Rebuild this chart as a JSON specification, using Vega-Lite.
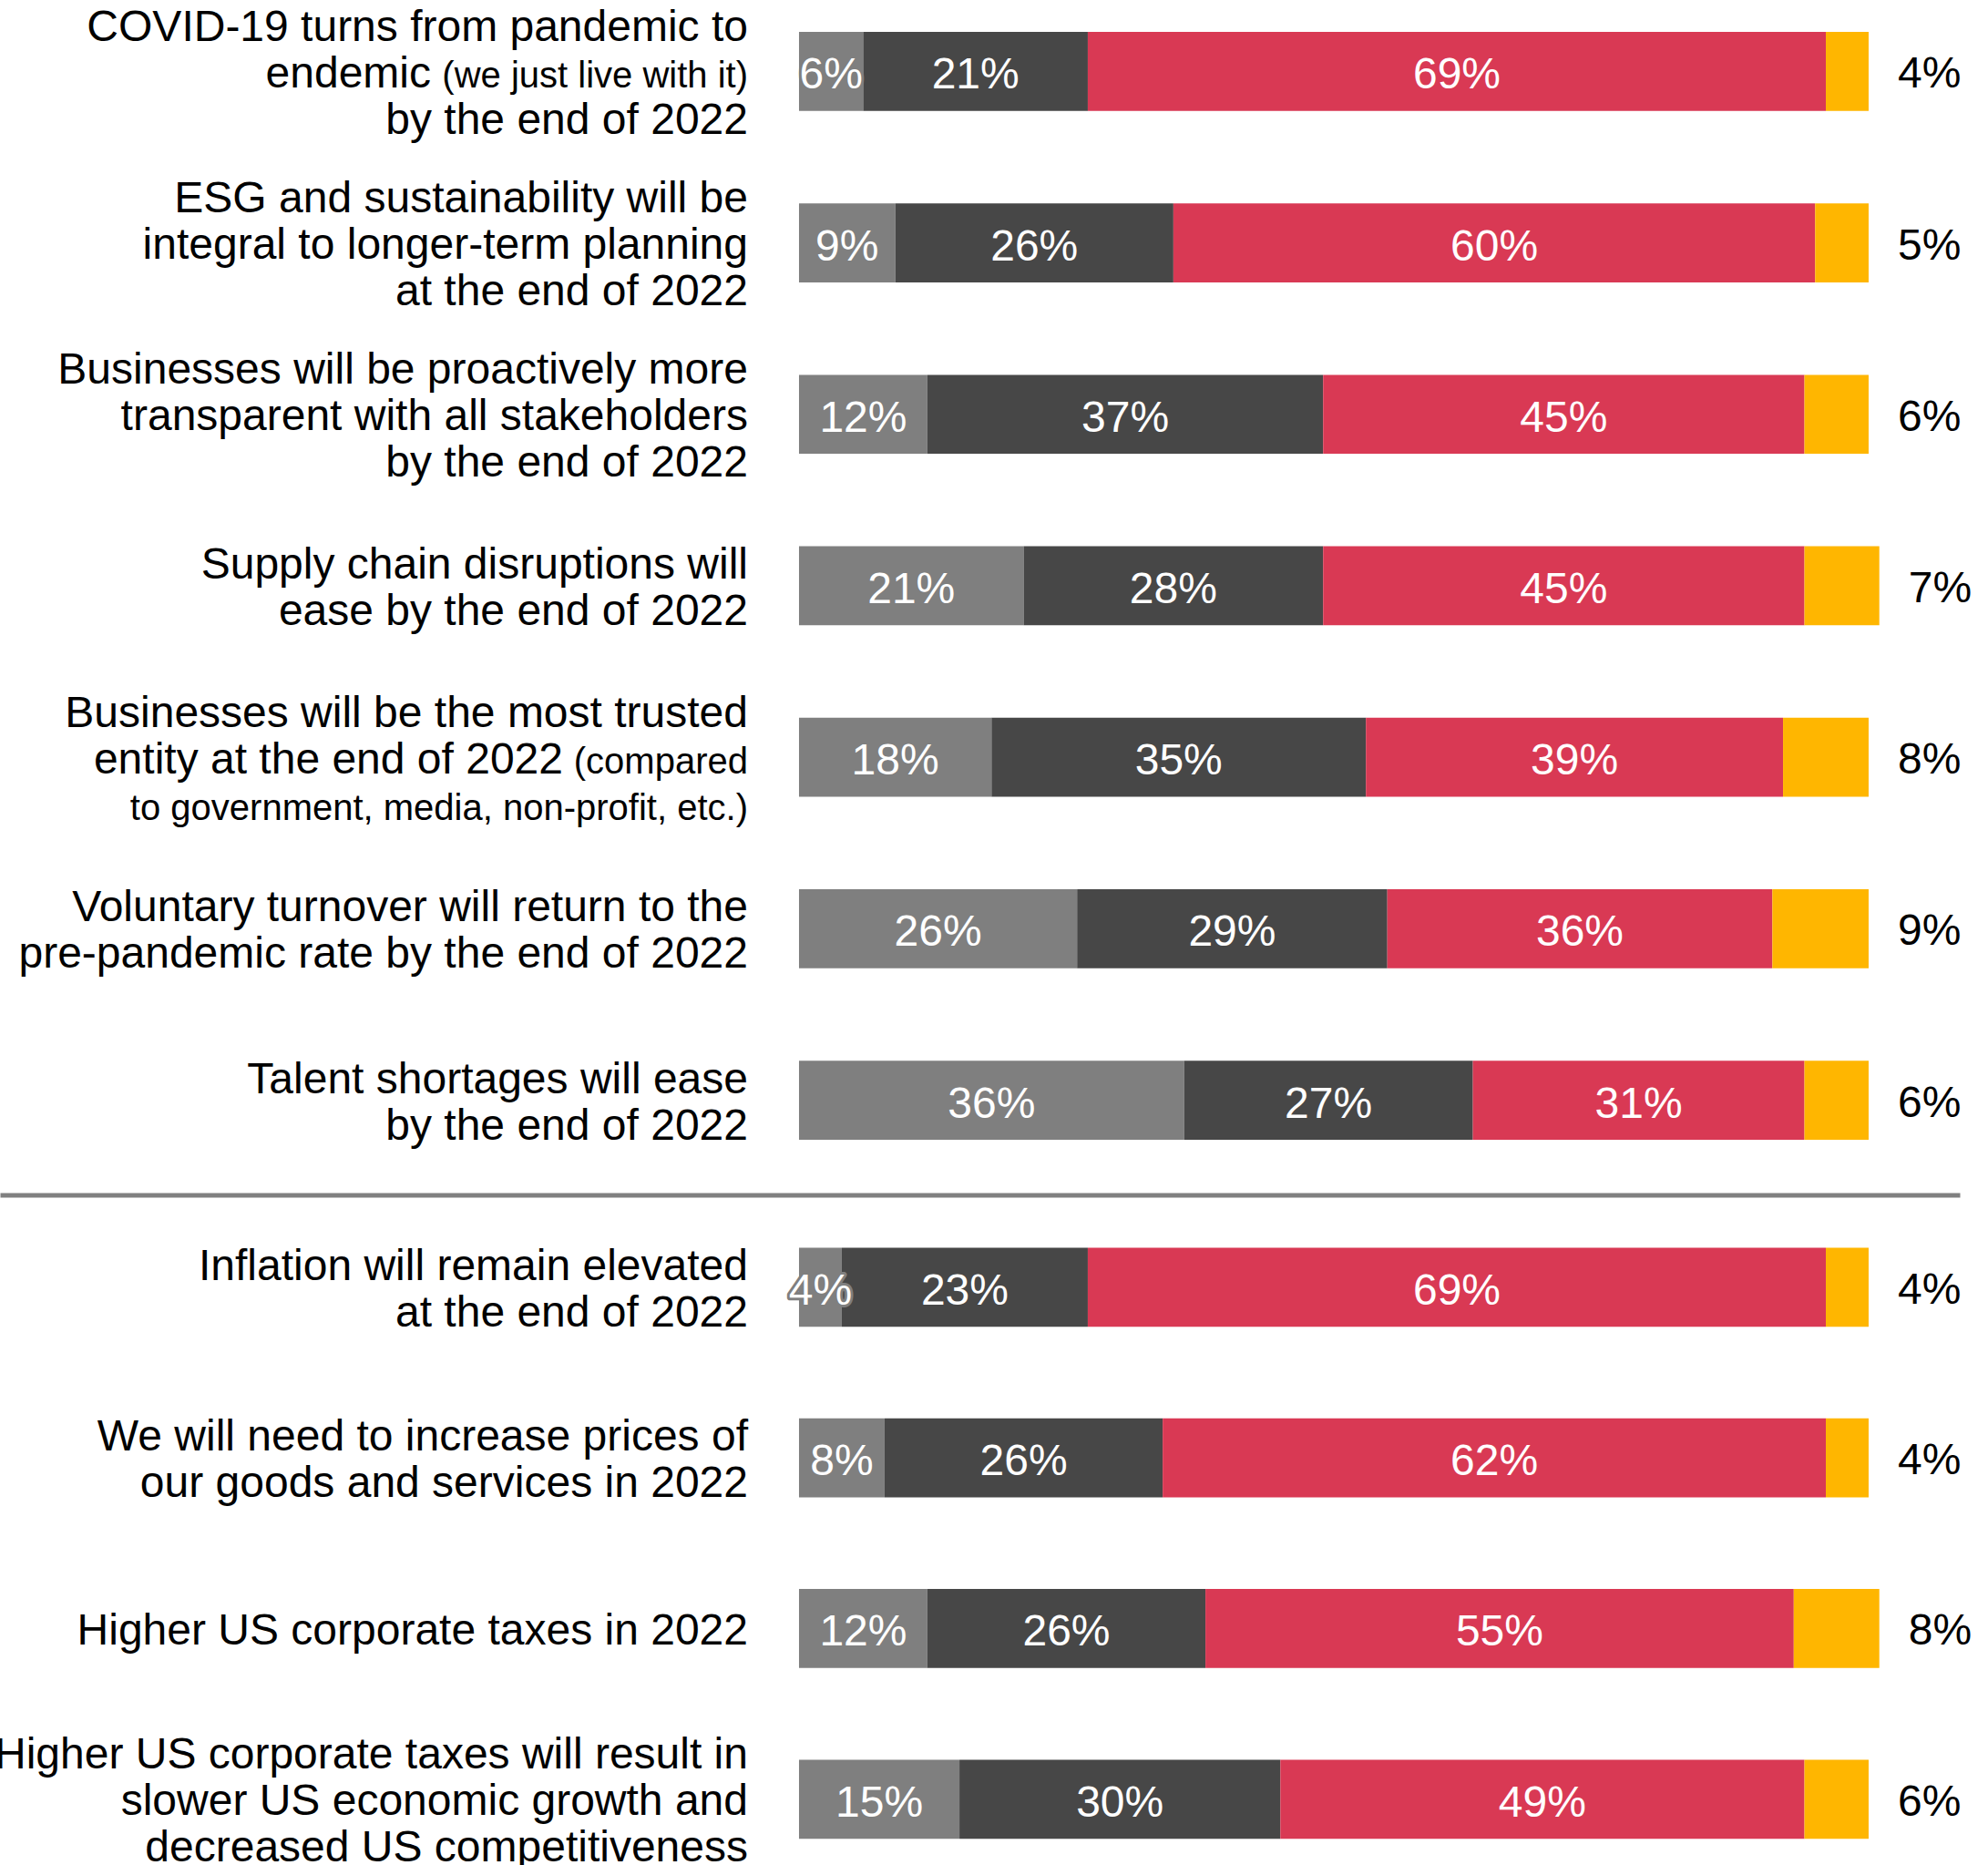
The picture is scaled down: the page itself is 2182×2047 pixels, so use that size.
{
  "$schema": "https://vega.github.io/schema/vega-lite/v6.json",
  "padding": 0,
  "spacing": 0,
  "bounds": "flush",
  "background": "white",
  "config": {"font": "Liberation Sans", "view": {"stroke": null}, "axis": {"grid": false}},
  "datasets": {
    "bars": [
      {"panel": "top", "q": "covid", "cat": "Disagree", "k": 1, "v": 0.06},
      {"panel": "top", "q": "covid", "cat": "Neutral", "k": 2, "v": 0.21},
      {"panel": "top", "q": "covid", "cat": "Agree", "k": 3, "v": 0.69},
      {"panel": "top", "q": "covid", "cat": "Don't know", "k": 4, "v": 0.04},
      {"panel": "top", "q": "esg", "cat": "Disagree", "k": 1, "v": 0.09},
      {"panel": "top", "q": "esg", "cat": "Neutral", "k": 2, "v": 0.26},
      {"panel": "top", "q": "esg", "cat": "Agree", "k": 3, "v": 0.60},
      {"panel": "top", "q": "esg", "cat": "Don't know", "k": 4, "v": 0.05},
      {"panel": "top", "q": "transparent", "cat": "Disagree", "k": 1, "v": 0.12},
      {"panel": "top", "q": "transparent", "cat": "Neutral", "k": 2, "v": 0.37},
      {"panel": "top", "q": "transparent", "cat": "Agree", "k": 3, "v": 0.45},
      {"panel": "top", "q": "transparent", "cat": "Don't know", "k": 4, "v": 0.06},
      {"panel": "top", "q": "supply", "cat": "Disagree", "k": 1, "v": 0.21},
      {"panel": "top", "q": "supply", "cat": "Neutral", "k": 2, "v": 0.28},
      {"panel": "top", "q": "supply", "cat": "Agree", "k": 3, "v": 0.45},
      {"panel": "top", "q": "supply", "cat": "Don't know", "k": 4, "v": 0.07},
      {"panel": "top", "q": "trusted", "cat": "Disagree", "k": 1, "v": 0.18},
      {"panel": "top", "q": "trusted", "cat": "Neutral", "k": 2, "v": 0.35},
      {"panel": "top", "q": "trusted", "cat": "Agree", "k": 3, "v": 0.39},
      {"panel": "top", "q": "trusted", "cat": "Don't know", "k": 4, "v": 0.08},
      {"panel": "top", "q": "turnover", "cat": "Disagree", "k": 1, "v": 0.26},
      {"panel": "top", "q": "turnover", "cat": "Neutral", "k": 2, "v": 0.29},
      {"panel": "top", "q": "turnover", "cat": "Agree", "k": 3, "v": 0.36},
      {"panel": "top", "q": "turnover", "cat": "Don't know", "k": 4, "v": 0.09},
      {"panel": "top", "q": "talent", "cat": "Disagree", "k": 1, "v": 0.36},
      {"panel": "top", "q": "talent", "cat": "Neutral", "k": 2, "v": 0.27},
      {"panel": "top", "q": "talent", "cat": "Agree", "k": 3, "v": 0.31},
      {"panel": "top", "q": "talent", "cat": "Don't know", "k": 4, "v": 0.06},
      {"panel": "bottom", "q": "inflation", "cat": "Disagree", "k": 1, "v": 0.04},
      {"panel": "bottom", "q": "inflation", "cat": "Neutral", "k": 2, "v": 0.23},
      {"panel": "bottom", "q": "inflation", "cat": "Agree", "k": 3, "v": 0.69},
      {"panel": "bottom", "q": "inflation", "cat": "Don't know", "k": 4, "v": 0.04},
      {"panel": "bottom", "q": "prices", "cat": "Disagree", "k": 1, "v": 0.08},
      {"panel": "bottom", "q": "prices", "cat": "Neutral", "k": 2, "v": 0.26},
      {"panel": "bottom", "q": "prices", "cat": "Agree", "k": 3, "v": 0.62},
      {"panel": "bottom", "q": "prices", "cat": "Don't know", "k": 4, "v": 0.04},
      {"panel": "bottom", "q": "taxes", "cat": "Disagree", "k": 1, "v": 0.12},
      {"panel": "bottom", "q": "taxes", "cat": "Neutral", "k": 2, "v": 0.26},
      {"panel": "bottom", "q": "taxes", "cat": "Agree", "k": 3, "v": 0.55},
      {"panel": "bottom", "q": "taxes", "cat": "Don't know", "k": 4, "v": 0.08},
      {"panel": "bottom", "q": "growth", "cat": "Disagree", "k": 1, "v": 0.15},
      {"panel": "bottom", "q": "growth", "cat": "Neutral", "k": 2, "v": 0.30},
      {"panel": "bottom", "q": "growth", "cat": "Agree", "k": 3, "v": 0.49},
      {"panel": "bottom", "q": "growth", "cat": "Don't know", "k": 4, "v": 0.06}
    ],
    "labels": [
      {"panel": "top", "q": "covid", "role": "first", "text": "COVID-19 turns from pandemic to"},
      {"panel": "top", "q": "covid", "role": "leadA", "text": "endemic"},
      {"panel": "top", "q": "covid", "role": "note", "text": "(we just live with it)"},
      {"panel": "top", "q": "covid", "role": "last", "text": "by the end of 2022"},
      {"panel": "top", "q": "esg", "role": "main", "text": "ESG and sustainability will be\nintegral to longer-term planning\nat the end of 2022"},
      {"panel": "top", "q": "transparent", "role": "main", "text": "Businesses will be proactively more\ntransparent with all stakeholders\nby the end of 2022"},
      {"panel": "top", "q": "supply", "role": "main", "text": "Supply chain disruptions will\nease by the end of 2022"},
      {"panel": "top", "q": "trusted", "role": "first", "text": "Businesses will be the most trusted"},
      {"panel": "top", "q": "trusted", "role": "leadB", "text": "entity at the end of 2022"},
      {"panel": "top", "q": "trusted", "role": "note", "text": "(compared\nto government, media, non-profit, etc.)"},
      {"panel": "top", "q": "turnover", "role": "main", "text": "Voluntary turnover will return to the\npre-pandemic rate by the end of 2022"},
      {"panel": "top", "q": "talent", "role": "main", "text": "Talent shortages will ease\nby the end of 2022"},
      {"panel": "bottom", "q": "inflation", "role": "main", "text": "Inflation will remain elevated\nat the end of 2022"},
      {"panel": "bottom", "q": "prices", "role": "main", "text": "We will need to increase prices of\nour goods and services in 2022"},
      {"panel": "bottom", "q": "taxes", "role": "main", "text": "Higher US corporate taxes in 2022"},
      {"panel": "bottom", "q": "growth", "role": "main", "text": "Higher US corporate taxes will result in\nslower US economic growth and\ndecreased US competitiveness"}
    ]
  },
  "vconcat": [
    {
      "width": 2151,
      "height": 1311.5,
      "layer": [
        {
          "data": {"name": "bars"},
          "transform": [{"filter": "datum.panel == 'top'"}],
          "mark": {"type": "bar"},
          "encoding": {
            "y": {"field": "q", "type": "nominal", "axis": null,
                  "scale": {"domain": ["covid", "esg", "transparent", "supply", "trusted", "turnover", "talent"], "paddingInner": 0.5393, "paddingOuter": 0.254, "align": 0.366}},
            "x": {"field": "v", "type": "quantitative", "stack": "zero",
                  "scale": {"domain": [-0.747, 1.0852], "nice": false, "zero": false},
                  "axis": {"title": null, "labels": false, "ticks": false, "grid": false, "domain": true, "domainColor": "#808080", "domainWidth": 5}},
            "color": {"field": "cat", "type": "nominal", "legend": null,
                      "scale": {"domain": ["Disagree", "Neutral", "Agree", "Don't know"], "range": ["#7f7f7f", "#474747", "#d93954", "#ffb600"]}},
            "order": {"field": "k", "type": "quantitative"}
          }
        },
        {
          "data": {"name": "bars"},
          "transform": [{"filter": "datum.panel == 'top' && datum.k == 1"}],
          "mark": {"type": "text", "fontSize": 48, "fill": "white", "stroke": "#7f7f7f", "strokeWidth": 6, "strokeJoin": "round", "align": "center", "baseline": "middle", "dy": 5},
          "encoding": {
            "y": {"field": "q", "type": "nominal", "axis": null},
            "x": {"field": "v", "type": "quantitative", "stack": "zero", "bandPosition": 0.5,
                  "axis": {"title": null, "labels": false, "ticks": false, "grid": false, "domain": true, "domainColor": "#808080", "domainWidth": 5}},
            "detail": {"field": "cat", "type": "nominal"},
            "order": {"field": "k", "type": "quantitative"},
            "text": {"field": "v", "type": "quantitative", "format": ".0%"}
          }
        },
        {
          "data": {"name": "bars"},
          "transform": [{"filter": "datum.panel == 'top' && datum.k <= 3"}],
          "mark": {"type": "text", "fontSize": 48, "color": "white", "align": "center", "baseline": "middle", "dy": 5},
          "encoding": {
            "y": {"field": "q", "type": "nominal", "axis": null},
            "x": {"field": "v", "type": "quantitative", "stack": "zero", "bandPosition": 0.5,
                  "axis": {"title": null, "labels": false, "ticks": false, "grid": false, "domain": true, "domainColor": "#808080", "domainWidth": 5}},
            "detail": {"field": "cat", "type": "nominal"},
            "order": {"field": "k", "type": "quantitative"},
            "text": {"field": "v", "type": "quantitative", "format": ".0%"}
          }
        },
        {
          "data": {"name": "bars"},
          "transform": [
            {"filter": "datum.panel == 'top'"},
            {"stack": "v", "groupby": ["q"], "sort": [{"field": "k", "order": "ascending"}], "as": ["s0", "s1"]},
            {"filter": "datum.k == 4"}
          ],
          "mark": {"type": "text", "fontSize": 48, "color": "black", "align": "left", "baseline": "middle", "dx": 32, "dy": 4},
          "encoding": {
            "y": {"field": "q", "type": "nominal", "axis": null},
            "x": {"field": "s1", "type": "quantitative",
                  "axis": {"title": null, "labels": false, "ticks": false, "grid": false, "domain": true, "domainColor": "#808080", "domainWidth": 5}},
            "text": {"field": "v", "type": "quantitative", "format": ".0%"}
          }
        },
        {
          "data": {"name": "labels"},
          "transform": [{"filter": "datum.panel == 'top' && datum.role == 'main' && length(split(datum.text, '\\n')) == 3"}],
          "mark": {"type": "text", "fontSize": 48, "lineHeight": 51, "lineBreak": "\n", "color": "black", "align": "right", "baseline": "middle", "dx": -56, "dy": -47.5, "clip": true},
          "encoding": {
            "y": {"field": "q", "type": "nominal", "axis": null},
            "x": {"datum": 0, "type": "quantitative",
                  "axis": {"title": null, "labels": false, "ticks": false, "grid": false, "domain": true, "domainColor": "#808080", "domainWidth": 5}},
            "text": {"field": "text", "type": "nominal"}
          }
        },
        {
          "data": {"name": "labels"},
          "transform": [{"filter": "datum.panel == 'top' && datum.role == 'main' && length(split(datum.text, '\\n')) == 2"}],
          "mark": {"type": "text", "fontSize": 48, "lineHeight": 51, "lineBreak": "\n", "color": "black", "align": "right", "baseline": "middle", "dx": -56, "dy": -22, "clip": true},
          "encoding": {
            "y": {"field": "q", "type": "nominal", "axis": null},
            "x": {"datum": 0, "type": "quantitative",
                  "axis": {"title": null, "labels": false, "ticks": false, "grid": false, "domain": true, "domainColor": "#808080", "domainWidth": 5}},
            "text": {"field": "text", "type": "nominal"}
          }
        },
        {
          "data": {"name": "labels"},
          "transform": [{"filter": "datum.panel == 'top' && datum.role == 'first'"}],
          "mark": {"type": "text", "fontSize": 48, "color": "black", "align": "right", "baseline": "middle", "dx": -56, "dy": -47.5, "clip": true},
          "encoding": {
            "y": {"field": "q", "type": "nominal", "axis": null},
            "x": {"datum": 0, "type": "quantitative",
                  "axis": {"title": null, "labels": false, "ticks": false, "grid": false, "domain": true, "domainColor": "#808080", "domainWidth": 5}},
            "text": {"field": "text", "type": "nominal"}
          }
        },
        {
          "data": {"name": "labels"},
          "transform": [{"filter": "datum.panel == 'top' && datum.role == 'last'"}],
          "mark": {"type": "text", "fontSize": 48, "color": "black", "align": "right", "baseline": "middle", "dx": -56, "dy": 54.5, "clip": true},
          "encoding": {
            "y": {"field": "q", "type": "nominal", "axis": null},
            "x": {"datum": 0, "type": "quantitative",
                  "axis": {"title": null, "labels": false, "ticks": false, "grid": false, "domain": true, "domainColor": "#808080", "domainWidth": 5}},
            "text": {"field": "text", "type": "nominal"}
          }
        },
        {
          "data": {"name": "labels"},
          "transform": [{"filter": "datum.panel == 'top' && datum.role == 'note'"}],
          "mark": {"type": "text", "fontSize": 40, "lineHeight": 51, "lineBreak": "\n", "color": "black", "align": "right", "baseline": "middle", "dx": -56, "dy": 5.5, "clip": true},
          "encoding": {
            "y": {"field": "q", "type": "nominal", "axis": null},
            "x": {"datum": 0, "type": "quantitative",
                  "axis": {"title": null, "labels": false, "ticks": false, "grid": false, "domain": true, "domainColor": "#808080", "domainWidth": 5}},
            "text": {"field": "text", "type": "nominal"}
          }
        },
        {
          "data": {"name": "labels"},
          "transform": [{"filter": "datum.panel == 'top' && datum.role == 'leadA'"}],
          "mark": {"type": "text", "fontSize": 48, "color": "black", "align": "right", "baseline": "middle", "dx": -404, "dy": 3.5, "clip": true},
          "encoding": {
            "y": {"field": "q", "type": "nominal", "axis": null},
            "x": {"datum": 0, "type": "quantitative",
                  "axis": {"title": null, "labels": false, "ticks": false, "grid": false, "domain": true, "domainColor": "#808080", "domainWidth": 5}},
            "text": {"field": "text", "type": "nominal"}
          }
        },
        {
          "data": {"name": "labels"},
          "transform": [{"filter": "datum.panel == 'top' && datum.role == 'leadB'"}],
          "mark": {"type": "text", "fontSize": 48, "color": "black", "align": "right", "baseline": "middle", "dx": -259, "dy": 3.5, "clip": true},
          "encoding": {
            "y": {"field": "q", "type": "nominal", "axis": null},
            "x": {"datum": 0, "type": "quantitative",
                  "axis": {"title": null, "labels": false, "ticks": false, "grid": false, "domain": true, "domainColor": "#808080", "domainWidth": 5}},
            "text": {"field": "text", "type": "nominal"}
          }
        }
      ]
    },
    {
      "width": 2151,
      "height": 735.5,
      "layer": [
        {
          "data": {"name": "bars"},
          "transform": [{"filter": "datum.panel == 'bottom'"}],
          "mark": {"type": "bar"},
          "encoding": {
            "y": {"field": "q", "type": "nominal", "axis": null,
                  "scale": {"domain": ["inflation", "prices", "taxes", "growth"], "paddingInner": 0.537, "paddingOuter": 0.232, "align": 0.662}},
            "x": {"field": "v", "type": "quantitative", "stack": "zero",
                  "scale": {"domain": [-0.747, 1.0852], "nice": false, "zero": false}, "axis": null},
            "color": {"field": "cat", "type": "nominal", "legend": null,
                      "scale": {"domain": ["Disagree", "Neutral", "Agree", "Don't know"], "range": ["#7f7f7f", "#474747", "#d93954", "#ffb600"]}},
            "order": {"field": "k", "type": "quantitative"}
          }
        },
        {
          "data": {"name": "bars"},
          "transform": [{"filter": "datum.panel == 'bottom' && datum.k == 1"}],
          "mark": {"type": "text", "fontSize": 48, "fill": "white", "stroke": "#7f7f7f", "strokeWidth": 6, "strokeJoin": "round", "align": "center", "baseline": "middle", "dy": 5},
          "encoding": {
            "y": {"field": "q", "type": "nominal", "axis": null},
            "x": {"field": "v", "type": "quantitative", "stack": "zero", "bandPosition": 0.5, "axis": null},
            "detail": {"field": "cat", "type": "nominal"},
            "order": {"field": "k", "type": "quantitative"},
            "text": {"field": "v", "type": "quantitative", "format": ".0%"}
          }
        },
        {
          "data": {"name": "bars"},
          "transform": [{"filter": "datum.panel == 'bottom' && datum.k <= 3"}],
          "mark": {"type": "text", "fontSize": 48, "color": "white", "align": "center", "baseline": "middle", "dy": 5},
          "encoding": {
            "y": {"field": "q", "type": "nominal", "axis": null},
            "x": {"field": "v", "type": "quantitative", "stack": "zero", "bandPosition": 0.5, "axis": null},
            "detail": {"field": "cat", "type": "nominal"},
            "order": {"field": "k", "type": "quantitative"},
            "text": {"field": "v", "type": "quantitative", "format": ".0%"}
          }
        },
        {
          "data": {"name": "bars"},
          "transform": [
            {"filter": "datum.panel == 'bottom'"},
            {"stack": "v", "groupby": ["q"], "sort": [{"field": "k", "order": "ascending"}], "as": ["s0", "s1"]},
            {"filter": "datum.k == 4"}
          ],
          "mark": {"type": "text", "fontSize": 48, "color": "black", "align": "left", "baseline": "middle", "dx": 32, "dy": 4},
          "encoding": {
            "y": {"field": "q", "type": "nominal", "axis": null},
            "x": {"field": "s1", "type": "quantitative", "axis": null},
            "text": {"field": "v", "type": "quantitative", "format": ".0%"}
          }
        },
        {
          "data": {"name": "labels"},
          "transform": [{"filter": "datum.panel == 'bottom' && datum.role == 'main' && length(split(datum.text, '\\n')) == 3"}],
          "mark": {"type": "text", "fontSize": 48, "lineHeight": 51, "lineBreak": "\n", "color": "black", "align": "right", "baseline": "middle", "dx": -56, "dy": -47.5, "clip": true},
          "encoding": {
            "y": {"field": "q", "type": "nominal", "axis": null},
            "x": {"datum": 0, "type": "quantitative", "axis": null},
            "text": {"field": "text", "type": "nominal"}
          }
        },
        {
          "data": {"name": "labels"},
          "transform": [{"filter": "datum.panel == 'bottom' && datum.role == 'main' && length(split(datum.text, '\\n')) == 2"}],
          "mark": {"type": "text", "fontSize": 48, "lineHeight": 51, "lineBreak": "\n", "color": "black", "align": "right", "baseline": "middle", "dx": -56, "dy": -22, "clip": true},
          "encoding": {
            "y": {"field": "q", "type": "nominal", "axis": null},
            "x": {"datum": 0, "type": "quantitative", "axis": null},
            "text": {"field": "text", "type": "nominal"}
          }
        },
        {
          "data": {"name": "labels"},
          "transform": [{"filter": "datum.panel == 'bottom' && datum.role == 'main' && length(split(datum.text, '\\n')) == 1"}],
          "mark": {"type": "text", "fontSize": 48, "color": "black", "align": "right", "baseline": "middle", "dx": -56, "dy": 3.5, "clip": true},
          "encoding": {
            "y": {"field": "q", "type": "nominal", "axis": null},
            "x": {"datum": 0, "type": "quantitative", "axis": null},
            "text": {"field": "text", "type": "nominal"}
          }
        }
      ]
    }
  ]
}
